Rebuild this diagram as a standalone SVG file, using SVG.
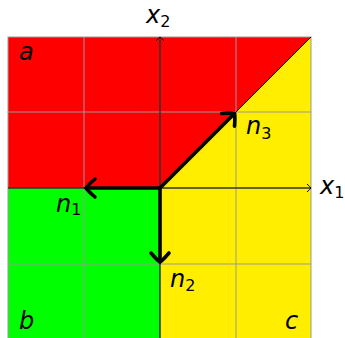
<svg xmlns="http://www.w3.org/2000/svg" width="345" height="338" viewBox="0 0 345 338">
<style>
.grid{stroke:#999999;stroke-width:1;fill:none}
.thin{stroke:#000;stroke-width:1;fill:none}
.thick{stroke:#000;stroke-width:3.6;fill:none}
.lbl{font-family:"DejaVu Sans","Open Sans",sans-serif;font-style:italic;font-size:24px;fill:#000}
.sub{font-family:"DejaVu Sans","Open Sans",sans-serif;font-style:normal;font-size:16px;fill:#000}
</style>
<defs>
<marker id="big" markerUnits="userSpaceOnUse" orient="auto" viewBox="-14 -12 16 24" refX="0" refY="0" markerWidth="16" markerHeight="24" overflow="visible">
<path d="M-9,-9 Q-2,-3 0,0 Q-2,3 -9,9" stroke="#000" stroke-width="3.6" fill="none" stroke-linecap="round"/>
</marker>
<marker id="small" markerUnits="userSpaceOnUse" orient="auto" viewBox="-8 -6 10 12" refX="0" refY="0" markerWidth="10" markerHeight="12" overflow="visible">
<path d="M-4,-4 Q-1,-1.3 0,0 Q-1,1.3 -4,4" stroke="#000" stroke-width="1" fill="none"/>
</marker>
</defs>
<g id="regions">
<polygon id="region-a" points="8,37 311,37 160,188 8,188" fill="#ff0000"/>
<polygon id="region-b" points="8,188 160,188 160,340 8,340" fill="#00ff00"/>
<polygon id="region-c" points="160,188 311,37 311,340 160,340" fill="#ffee00"/>
</g>
<g id="grid" class="grid">
<line x1="84" y1="37" x2="84" y2="340"/>
<line x1="160" y1="37" x2="160" y2="340"/>
<line x1="236" y1="37" x2="236" y2="340"/>
<line x1="8" y1="112" x2="311" y2="112"/>
<line x1="8" y1="188" x2="311" y2="188"/>
<line x1="8" y1="264" x2="311" y2="264"/>
<rect x="8" y="37" width="303" height="303"/>
</g>
<g id="axes">
<line class="thin" x1="8" y1="188" x2="311" y2="188" marker-end="url(#small)"/>
<line class="thin" x1="160" y1="340" x2="160" y2="37" marker-end="url(#small)"/>
<line class="thin" x1="160" y1="188" x2="311" y2="37"/>
<text class="lbl" x="320" y="194">x<tspan class="sub" dx="0" dy="4">1</tspan></text>
<text class="lbl" x="146" y="23">x<tspan class="sub" dx="0" dy="4">2</tspan></text>
</g>
<g id="connectors">
<line id="n1" class="thick" x1="160" y1="188" x2="86" y2="188" marker-end="url(#big)"/>
<line id="n2" class="thick" x1="160" y1="188" x2="160" y2="262" marker-end="url(#big)"/>
<line id="n3" class="thick" x1="160" y1="188" x2="234.5" y2="113.5" marker-end="url(#big)"/>
</g>
<g id="labels">
<text class="lbl" x="19" y="60">a</text>
<text class="lbl" x="19" y="329">b</text>
<text class="lbl" x="285" y="329">c</text>
<text class="lbl" x="56" y="212">n<tspan class="sub" dx="0" dy="3">1</tspan></text>
<text class="lbl" x="170" y="287">n<tspan class="sub" dx="0" dy="4">2</tspan></text>
<text class="lbl" x="246" y="134">n<tspan class="sub" dx="0" dy="5">3</tspan></text>
</g>
</svg>
